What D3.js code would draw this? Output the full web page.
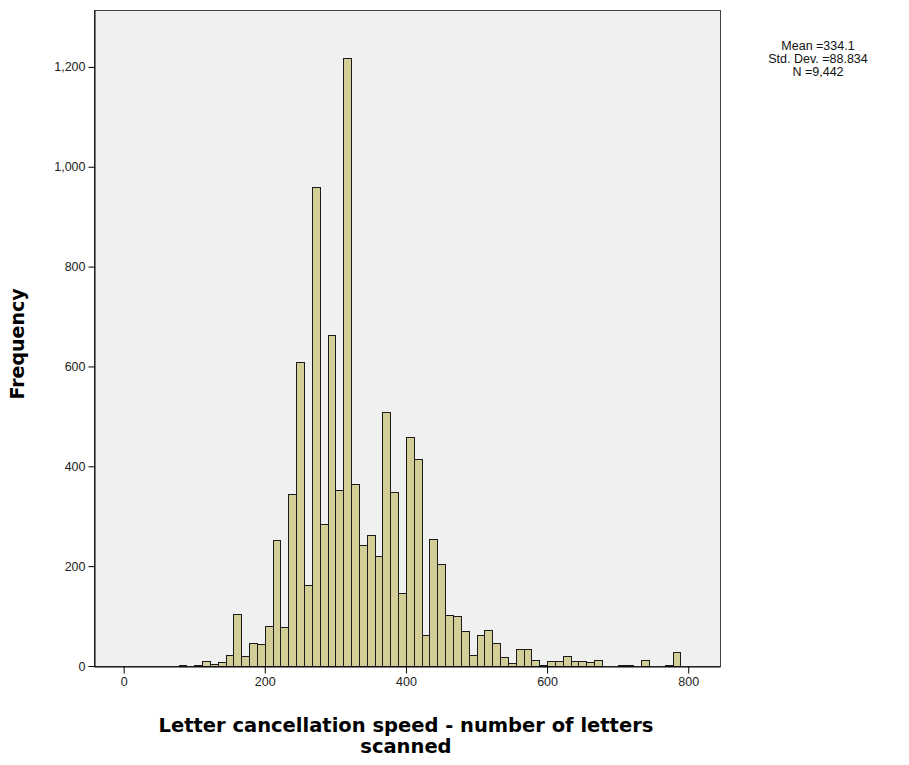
<!DOCTYPE html>
<html>
<head>
<meta charset="utf-8">
<script src="https://cdn.jsdelivr.net/npm/d3@7"></script>
<style>
  body { margin: 0; background: #fff; }
  text { font-family: "Liberation Sans", Arial, sans-serif; }
</style>
</head>
<body>
<svg id="chart" width="909" height="765"></svg>
<script>
// histogram bins: start of first bin and width (SPSS auto binning)
const binStart = 200 - 11 * (100 / 9);
const binWidth = 100 / 9;

// frequency per bin
const counts = [
  2, 0, 2, 11, 4, 8, 23, 104, 21, 47, 45,
  81, 253, 79, 345, 608, 162, 960, 284, 663, 352, 1218,
  365, 242, 262, 220, 509, 349, 147, 459, 414, 62, 254, 204,
  103, 101, 70, 23, 63, 73, 47, 19, 7, 35, 35, 12, 3,
  10, 10, 21, 10, 10, 8, 13,
  0, 0, 2, 2, 0, 12, 0, 0, 3, 29
];

const xTicks = [0, 200, 400, 600, 800];
const yTicks = [0, 200, 400, 600, 800, 1000, 1200];
const statsLines = ["Mean =334.1", "Std. Dev. =88.834", "N =9,442"];
const xTitle = ["Letter cancellation speed - number of letters", "scanned"];
const yTitle = "Frequency";

const bins = counts.map((c, i) => ({
    x0: binStart + i * binWidth,
    x1: binStart + (i + 1) * binWidth,
    count: c
}));

const svg = d3.select("#chart");
const plot = { left: 94, right: 720, top: 10, bottom: 666 };

const x = d3.scaleLinear()
    .domain([-42, 845])
    .range([plot.left, plot.right]);

const y = d3.scaleLinear()
    .domain([0, 1314])
    .range([plot.bottom, plot.top]);

// plot background + frame
svg.append("rect")
    .attr("x", plot.left + 0.5)
    .attr("y", plot.top + 0.5)
    .attr("width", plot.right - plot.left)
    .attr("height", plot.bottom - plot.top)
    .attr("fill", "#f0f0f0")
    .attr("stroke", "#444")
    .attr("stroke-width", 1);

// bars
svg.append("g")
    .selectAll("rect")
    .data(bins.filter(d => d.count > 0))
    .join("rect")
    .attr("x", d => Math.round(x(d.x0)) + 0.5)
    .attr("y", d => Math.round(y(d.count)) + 0.5)
    .attr("width", d => Math.round(x(d.x1)) - Math.round(x(d.x0)))
    .attr("height", d => plot.bottom - Math.round(y(d.count)))
    .attr("fill", "#d3ce97")
    .attr("stroke", "#1a1a1a")
    .attr("stroke-width", 1);

// axes
const xAxis = svg.append("g")
    .attr("transform", `translate(0,${plot.bottom + 0.5})`)
    .call(d3.axisBottom(x).tickValues(xTicks).tickSize(7).tickSizeOuter(0)
        .tickPadding(4).tickFormat(d3.format("d")));

const yAxis = svg.append("g")
    .attr("transform", `translate(${plot.left + 0.5},0)`)
    .call(d3.axisLeft(y).tickValues(yTicks).tickSize(6).tickSizeOuter(0)
        .tickPadding(3).tickFormat(d3.format(",")));

[xAxis, yAxis].forEach(g => {
    g.select(".domain").attr("stroke", "#000");
    g.selectAll(".tick line").attr("stroke", "#000");
    g.selectAll(".tick text")
        .attr("fill", "#222")
        .style("font-size", "12.5px")
        .style("font-family", "Liberation Sans, Arial, sans-serif");
});

// axis titles
svg.append("text")
    .attr("x", x(400))
    .attr("y", 732)
    .attr("text-anchor", "middle")
    .style("font-family", "DejaVu Sans, Verdana, sans-serif")
    .style("font-size", "19.5px")
    .style("font-weight", "bold")
    .selectAll("tspan")
    .data(xTitle)
    .join("tspan")
    .attr("x", x(400))
    .attr("dy", (d, i) => i === 0 ? 0 : 21)
    .text(d => d);

svg.append("text")
    .attr("transform", `translate(24,${(plot.top + plot.bottom) / 2 + 6}) rotate(-90)`)
    .attr("text-anchor", "middle")
    .style("font-family", "DejaVu Sans, Verdana, sans-serif")
    .style("font-size", "19px")
    .style("font-weight", "bold")
    .text(yTitle);

// stats box text
svg.append("g")
    .selectAll("text")
    .data(statsLines)
    .join("text")
    .attr("x", 818)
    .attr("y", (d, i) => 50 + i * 13)
    .attr("text-anchor", "middle")
    .attr("fill", "#111")
    .style("font-size", "12.5px")
    .text(d => d);
</script>
</body>
</html>
